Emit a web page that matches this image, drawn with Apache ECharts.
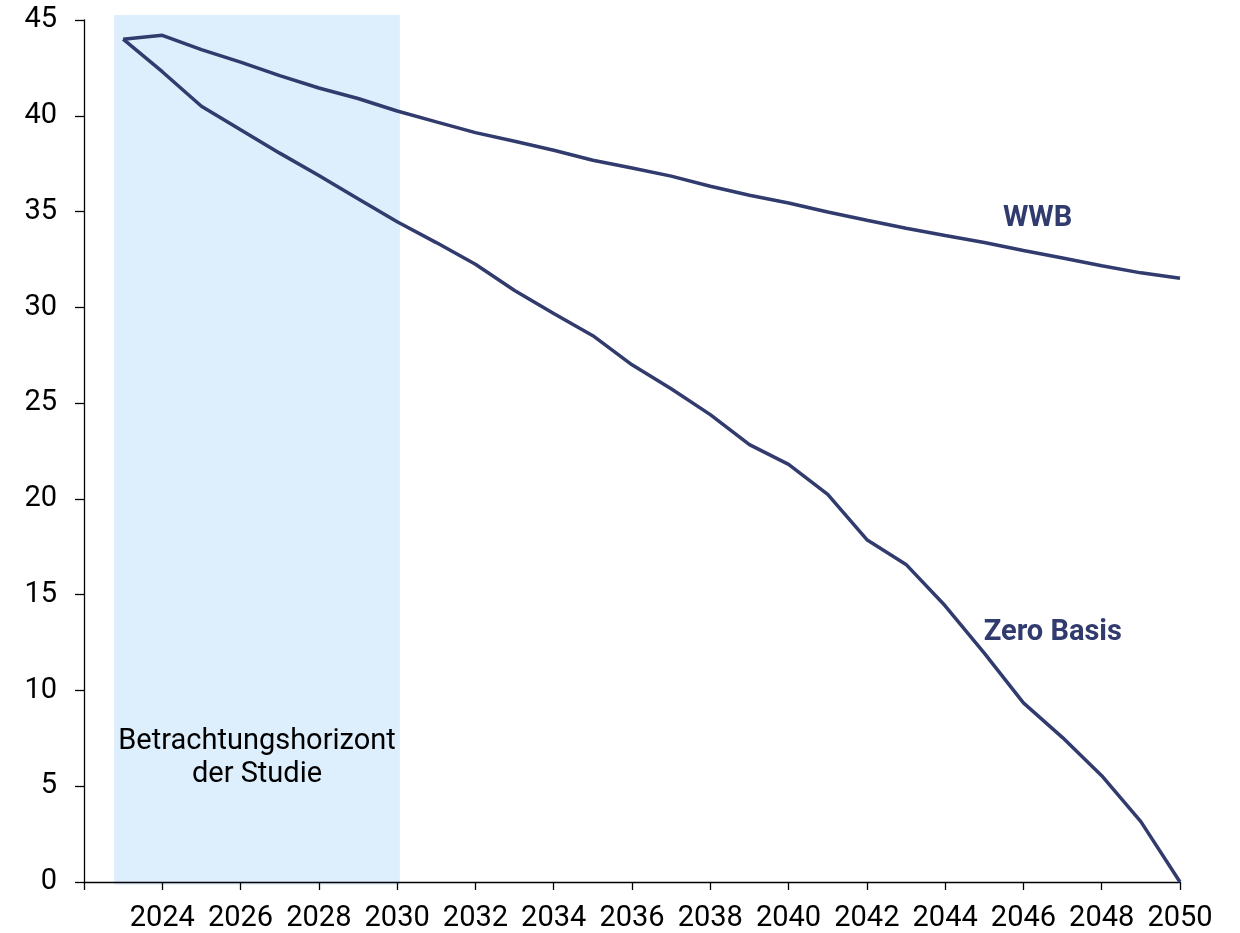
<!DOCTYPE html>
<html>
<head>
<meta charset="utf-8">
<script src="https://cdn.jsdelivr.net/npm/echarts@6/dist/echarts.min.js"></script>
<style>
  html, body { margin: 0; padding: 0; background: #fff; width: 100%; height: 100%; overflow: hidden; }
  #chart-panel { width: 100vw; height: 100vh; }
</style>
</head>
<body>
<div id="chart-panel"></div>
<script>
// years on the x axis
const years = [2023, 2024, 2025, 2026, 2027, 2028, 2029, 2030, 2031, 2032, 2033, 2034, 2035, 2036,
  2037, 2038, 2039, 2040, 2041, 2042, 2043, 2044, 2045, 2046, 2047, 2048, 2049, 2050]
const wwb = [44.0, 44.2, 43.45, 42.8, 42.1, 41.45, 40.9, 40.25, 39.68, 39.12, 38.67, 38.2, 37.68, 37.27,
  36.85, 36.32, 35.85, 35.45, 34.98, 34.55, 34.13, 33.75, 33.38, 32.97, 32.58, 32.17, 31.8, 31.52]
const zeroBasis = [44.0, 42.3, 40.5, 39.27, 38.05, 36.88, 35.67, 34.47, 33.38, 32.25, 30.88, 29.68, 28.52, 27.0,
  25.75, 24.4, 22.83, 21.8, 20.24, 17.87, 16.58, 14.42, 11.95, 9.35, 7.54, 5.55, 3.15, 0]
const seriesNames = ["WWB", "Zero Basis"]
// shaded study horizon: [x from, x to, y from, y to]
const studyRange = [2022.77, 2030.07, -0.15, 45.26]
const studyLabel = "Betrachtungshorizont\nder Studie"

const lineColor = "#313B6D"
const font = "Roboto"

const chart = echarts.init(document.getElementById("chart-panel"), null, { renderer: "canvas" })

const renderStudy = (params, api) => {
  const p0 = api.coord([api.value(0), api.value(2)])
  const p1 = api.coord([api.value(1), api.value(3)])
  return {
    type: "rect",
    shape: { x: p0[0], y: p1[1], width: p1[0] - p0[0], height: p0[1] - p1[1] },
    style: { fill: "#DDEEFC" },
    textContent: {
      style: {
        text: studyLabel,
        fill: "#000",
        fontFamily: font,
        fontSize: 29,
        lineHeight: 33,
        align: "center"
      }
    },
    textConfig: { position: "insideBottom", distance: 94 }
  }
}

const options = {
  animation: false,
  grid: { left: 84, right: 60, top: 20, bottom: 48 },
  xAxis: {
    type: "value",
    min: 2022,
    max: 2050,
    interval: 2,
    splitLine: { show: false },
    axisLine: { lineStyle: { color: "#000", width: 1.3 } },
    axisTick: { length: 8, lineStyle: { color: "#000", width: 1.3 } },
    axisLabel: {
      color: "#000",
      fontFamily: font,
      fontSize: 29,
      margin: 22,
      formatter: (v) => (v === 2022 ? "" : String(v))
    }
  },
  yAxis: {
    type: "value",
    min: 0,
    max: 45,
    interval: 5,
    splitLine: { show: false },
    axisLine: { show: true, lineStyle: { color: "#000", width: 1.3 } },
    axisTick: { show: true, length: 9, lineStyle: { color: "#000", width: 1.3 } },
    axisLabel: {
      color: "#000",
      fontFamily: font,
      fontSize: 29,
      margin: 27
    }
  },
  series: [
    {
      name: "study",
      type: "custom",
      clip: false,
      silent: true,
      z: 0,
      renderItem: renderStudy,
      data: [studyRange]
    },
    {
      name: seriesNames[0],
      type: "line",
      showSymbol: false,
      lineStyle: { color: lineColor, width: 3.5 },
      data: years.map((y, i) => [y, wwb[i]]),
      markPoint: {
        symbolSize: 0,
        label: {
          show: true,
          position: "inside",
          formatter: seriesNames[0],
          color: lineColor,
          fontFamily: font,
          fontWeight: "bold",
          fontSize: 29
        },
        data: [{ coord: [2046.36, 34.6] }]
      }
    },
    {
      name: seriesNames[1],
      type: "line",
      showSymbol: false,
      lineStyle: { color: lineColor, width: 3.5 },
      data: years.map((y, i) => [y, zeroBasis[i]]),
      markPoint: {
        symbolSize: 0,
        label: {
          show: true,
          position: "inside",
          formatter: seriesNames[1],
          color: lineColor,
          fontFamily: font,
          fontWeight: "bold",
          fontSize: 29
        },
        data: [{ coord: [2046.75, 13.0] }]
      }
    }
  ]
}
chart.setOption(options)
window.addEventListener("resize", () => chart.resize())
</script>
</body>
</html>
